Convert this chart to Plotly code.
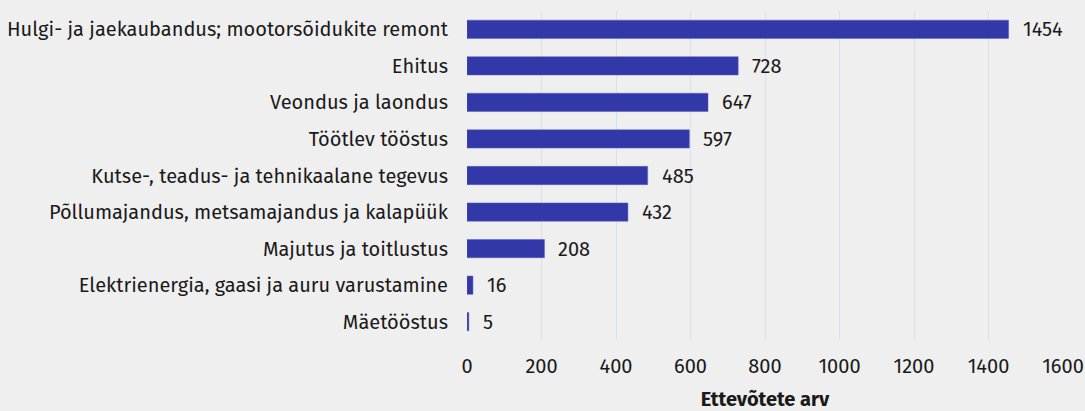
import plotly.graph_objects as go

categories = [
    "Hulgi- ja jaekaubandus; mootorsõidukite remont",
    "Ehitus",
    "Veondus ja laondus",
    "Töötlev tööstus",
    "Kutse-, teadus- ja tehnikaalane tegevus",
    "Põllumajandus, metsamajandus ja kalapüük",
    "Majutus ja toitlustus",
    "Elektrienergia, gaasi ja auru varustamine",
    "Mäetööstus",
]
values = [1454, 728, 647, 597, 485, 432, 208, 16, 5]
tick_vals = [0, 200, 400, 600, 800, 1000, 1200, 1400, 1600]

font_family = "Fira Sans, Noto Sans, sans-serif"

fig = go.Figure(
    go.Bar(
        y=categories,
        x=values,
        orientation="h",
        width=0.5,
        marker=dict(color="#3338a8", line=dict(color="#5a5fc0", width=0.5)),
        cliponaxis=False,
        hoverinfo="skip",
    )
)

for cat, v in zip(categories, values):
    fig.add_annotation(
        x=v, y=cat, xref="x", yref="y",
        text=str(v), showarrow=False,
        xanchor="left", yanchor="middle", xshift=12,
        font=dict(size=20, color="#1a1a1a", family=font_family),
    )

fig.update_layout(
    width=1085,
    height=411,
    paper_bgcolor="#efefef",
    plot_bgcolor="#efefef",
    margin=dict(l=467, r=22, t=11, b=71, autoexpand=False),
    showlegend=False,
    font=dict(family=font_family, size=20, color="#1a1a1a"),
)
fig.update_yaxes(
    autorange="reversed",
    automargin=False,
    showgrid=False,
    zeroline=False,
    showline=False,
    ticks="",
    ticklabelstandoff=18,
    tickfont=dict(size=20),
)
fig.update_xaxes(
    range=[0, 1600],
    automargin=False,
    tickvals=tick_vals,
    showgrid=True,
    gridcolor="#d9e1ec",
    gridwidth=1,
    zeroline=False,
    showline=False,
    ticks="",
    ticklabelstandoff=12,
    tickfont=dict(size=20),
    title=dict(text="<b>Ettevõtete arv</b>", font=dict(size=20), standoff=24),
)

fig.write_html(
    "out.html",
    config={"displayModeBar": False},
    post_script="document.body.style.margin='0';document.body.style.background='#efefef';document.body.style.overflow='hidden';",
)
